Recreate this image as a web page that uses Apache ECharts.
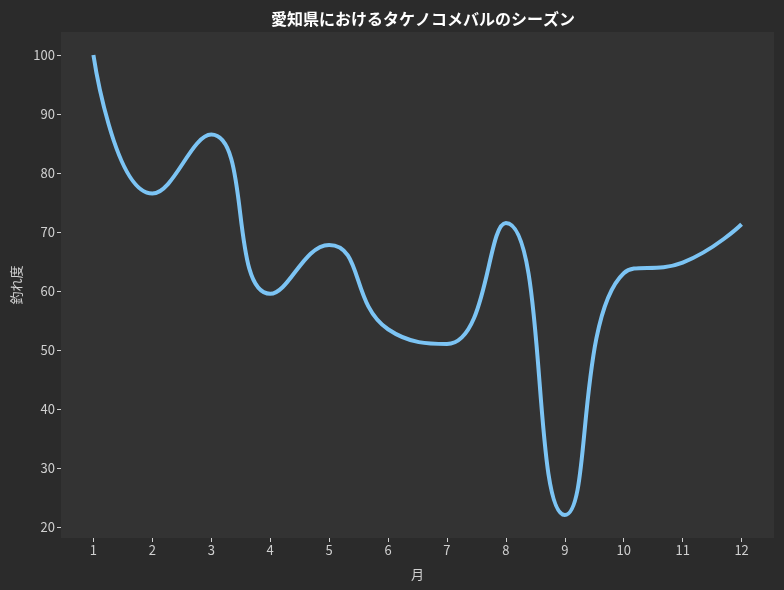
<!DOCTYPE html>
<html>
<head>
<meta charset="utf-8">
<script src="https://cdn.jsdelivr.net/npm/echarts@6/dist/echarts.min.js"></script>
<style>
html,body{margin:0;padding:0;background:#2b2b2b;}
#c{width:784px;height:590px;}
</style>
</head>
<body>
<div id="c"></div>
<script>
const months = [1, 2, 3, 4, 5, 6, 7, 8, 9, 10, 11, 12];
const catchRate = [100, 76.5, 86.5, 59.5, 67.8, 53.5, 51, 71.5, 22, 63, 64.8, 71.3];
const xTicks = [1, 2, 3, 4, 5, 6, 7, 8, 9, 10, 11, 12];
const yTicks = [20, 30, 40, 50, 60, 70, 80, 90, 100];
const titleText = '愛知県におけるタケノコメバルのシーズン';
const xName = '月';
const yName = '釣れ度';

const font = '"Noto Sans CJK JP", "Noto Sans", sans-serif';
const chart = echarts.init(document.getElementById('c'), null, {renderer: 'canvas'});
chart.setOption({
  backgroundColor: '#2b2b2b',
  animation: false,
  title: {
    text: titleText,
    left: 418, top: 6, textAlign: 'center',
    textStyle: {color: '#ffffff', fontSize: 16, fontWeight: 'bold', fontFamily: font}
  },
  grid: {left: 61, right: 10, top: 32, bottom: 52, show: true, backgroundColor: '#333333', borderWidth: 0},
  xAxis: {
    type: 'value', min: 0.45, max: 12.55,
    name: xName, nameLocation: 'middle', nameGap: 30,
    nameTextStyle: {color: '#d0d0d0', fontSize: 13, fontFamily: font},
    axisLine: {show: false},
    splitLine: {show: false},
    axisTick: {show: true, length: 4, lineStyle: {color: '#d0d0d0', width: 1}, customValues: xTicks},
    axisLabel: {color: '#d0d0d0', fontSize: 13, margin: 6, fontFamily: font, customValues: xTicks}
  },
  yAxis: {
    type: 'value', min: 18.1, max: 103.9,
    name: yName, nameLocation: 'middle', nameGap: 38, nameRotate: 90,
    nameTextStyle: {color: '#d0d0d0', fontSize: 13, fontFamily: font},
    axisLine: {show: false},
    splitLine: {show: false},
    axisTick: {show: true, length: 4, lineStyle: {color: '#d0d0d0', width: 1}, customValues: yTicks},
    axisLabel: {color: '#d0d0d0', fontSize: 13, margin: 6, fontFamily: font, customValues: yTicks}
  },
  series: [{
    type: 'line',
    data: months.map((m, i) => [m, catchRate[i]]),
    smooth: 0.5,
    showSymbol: false,
    lineStyle: {color: '#7cc4f4', width: 4}
  }]
});
</script>
</body>
</html>
